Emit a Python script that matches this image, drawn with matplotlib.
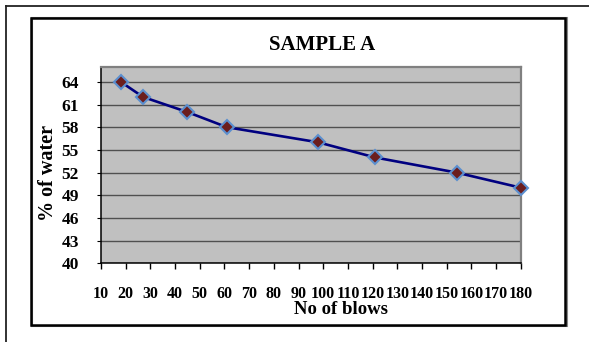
import matplotlib.pyplot as plt
from matplotlib.patches import Rectangle
from matplotlib.lines import Line2D

# Liquid limit test - sample A
blows = [18, 27, 45, 61, 98, 121, 154, 180]
water = [64, 62, 60, 58, 56, 54, 52, 50]

x_ticks = list(range(10, 181, 10))
y_ticks = list(range(40, 65, 3))

plt.rcParams['font.family'] = ['Liberation Serif', 'DejaVu Serif']
plt.rcParams['font.weight'] = 'bold'

W, H = 589, 342
fig = plt.figure(figsize=(W / 100, H / 100), dpi=100)
fig.patch.set_facecolor('white')

def px(x0, y0):
    # pixel position (from top-left) -> figure fraction
    return x0 / W, 1 - y0 / H

# outer page frame (only top and left edges show)
fig.add_artist(Line2D([6 / W, 1], [1 - 6 / H] * 2, color='#222222', lw=1.3))
fig.add_artist(Line2D([6 / W] * 2, [0, 1 - 6 / H], color='#222222', lw=1.3))

# chart area border with a faint shadow
fig.add_artist(Rectangle(px(32, 326), (566 - 31) / W, (326 - 18) / H,
                         transform=fig.transFigure, fill=False,
                         edgecolor='#888888', lw=1.5))
fig.add_artist(Rectangle(px(31, 324.5), (565 - 31) / W, (324.5 - 17.5) / H,
                         transform=fig.transFigure, fill=False,
                         edgecolor='black', lw=1.8))

ax = fig.add_axes([101 / W, 1 - 263.3 / H, (520.7 - 101) / W, (263.3 - 66.7) / H])
ax.set_facecolor('#C0C0C0')
ax.set_xlim(10, 180)
ax.set_ylim(40, 66)
ax.set_xticks(x_ticks)
ax.set_yticks(y_ticks)
ax.grid(axis='y', color='#505050', lw=1)
ax.set_axisbelow(True)

for side in ['top', 'right']:
    ax.spines[side].set_color('#808080')
    ax.spines[side].set_linewidth(1.6)
for side in ['left', 'bottom']:
    ax.spines[side].set_color('black')
    ax.spines[side].set_linewidth(1.1)

ax.tick_params(axis='x', direction='out', length=4, width=1, pad=12, labelsize=11.5)
ax.tick_params(axis='y', direction='out', length=3, width=0.8, pad=13, labelsize=12.5)
for lab in ax.get_xticklabels() + ax.get_yticklabels():
    lab.set_fontweight('bold')

ax.plot(blows, water, color='#000080', lw=1.9, marker='D', ms=7,
        markerfacecolor='#6B1E1E', markeredgecolor='#5B8FCF', mew=1.5,
        clip_on=False, zorder=3)

fig.text(*px(322, 45), 'SAMPLE A', ha='center', va='center',
         fontsize=15, fontweight='bold')
fig.text(*px(341.5, 309), 'No of blows', ha='center', va='center',
         fontsize=13.5, fontweight='bold')
fig.text(*px(48, 173), '% of water', ha='center', va='center',
         rotation=90, fontsize=14.5, fontweight='bold')

fig.savefig('out.png', dpi=100)
